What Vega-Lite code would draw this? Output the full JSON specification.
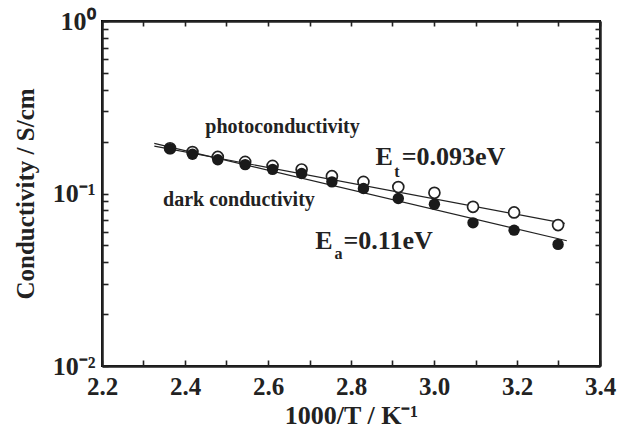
{
  "$schema": "https://vega.github.io/schema/vega-lite/v6.json",
  "autosize": {"type": "none"},
  "width": 498,
  "height": 345,
  "padding": {"left": 102, "top": 21, "right": 29, "bottom": 73},
  "background": "white",
  "config": {
    "view": {"stroke": "black", "strokeWidth": 2},
    "axis": {
      "domainColor": "#222", "domainWidth": 2.5, "tickColor": "#222", "tickWidth": 1.6,
      "grid": false, "labelFont": "Liberation Serif", "labelFontWeight": "bold", "labelColor": "#222",
      "titleFont": "Liberation Serif", "titleFontWeight": "bold", "titleColor": "#222"
    },
    "text": {"font": "Liberation Serif", "fontWeight": "bold", "color": "#222"}
  },
  "datasets": {
    "points": [
      {"x": 2.364, "sigma": 0.182, "type": "dark"},
      {"x": 2.418, "sigma": 0.169, "type": "dark"},
      {"x": 2.479, "sigma": 0.157, "type": "dark"},
      {"x": 2.545, "sigma": 0.147, "type": "dark"},
      {"x": 2.611, "sigma": 0.138, "type": "dark"},
      {"x": 2.681, "sigma": 0.1306, "type": "dark"},
      {"x": 2.754, "sigma": 0.1168, "type": "dark"},
      {"x": 2.830, "sigma": 0.107, "type": "dark"},
      {"x": 2.914, "sigma": 0.0936, "type": "dark"},
      {"x": 3.001, "sigma": 0.0867, "type": "dark"},
      {"x": 3.094, "sigma": 0.0676, "type": "dark"},
      {"x": 3.193, "sigma": 0.0613, "type": "dark"},
      {"x": 3.299, "sigma": 0.0507, "type": "dark"},
      {"x": 2.364, "sigma": 0.183, "type": "photo"},
      {"x": 2.418, "sigma": 0.174, "type": "photo"},
      {"x": 2.479, "sigma": 0.163, "type": "photo"},
      {"x": 2.545, "sigma": 0.1525, "type": "photo"},
      {"x": 2.611, "sigma": 0.1446, "type": "photo"},
      {"x": 2.681, "sigma": 0.1378, "type": "photo"},
      {"x": 2.754, "sigma": 0.126, "type": "photo"},
      {"x": 2.830, "sigma": 0.1168, "type": "photo"},
      {"x": 2.914, "sigma": 0.109, "type": "photo"},
      {"x": 3.001, "sigma": 0.1009, "type": "photo"},
      {"x": 3.094, "sigma": 0.0837, "type": "photo"},
      {"x": 3.193, "sigma": 0.0777, "type": "photo"},
      {"x": 3.299, "sigma": 0.0656, "type": "photo"}
    ],
    "fits": [
      {"x": 2.326, "sigma": 0.1883, "series": "photo"},
      {"x": 3.315, "sigma": 0.0671, "series": "photo"},
      {"x": 2.326, "sigma": 0.1954, "series": "dark"},
      {"x": 3.320, "sigma": 0.0532, "series": "dark"}
    ],
    "labels": [
      {"x": 2.635, "sigma": 0.2237, "text": "photoconductivity", "role": "name"},
      {"x": 2.530, "sigma": 0.0843, "text": "dark conductivity", "role": "name"},
      {"x": 2.859, "sigma": 0.1459, "text": "E", "role": "E"},
      {"x": 2.904, "sigma": 0.1244, "text": "t", "role": "sub"},
      {"x": 2.922, "sigma": 0.1459, "text": "=0.093eV", "role": "val"},
      {"x": 2.714, "sigma": 0.0474, "text": "E", "role": "E"},
      {"x": 2.760, "sigma": 0.0415, "text": "a", "role": "sub"},
      {"x": 2.782, "sigma": 0.0474, "text": "=0.11eV", "role": "val"}
    ]
  },
  "resolve": {"axis": {"x": "independent", "y": "independent"}},
  "layer": [
    {
      "data": {"name": "fits"},
      "mark": {"type": "line", "color": "#222", "strokeWidth": 1.2},
      "encoding": {
        "x": {"field": "x", "type": "quantitative",
          "scale": {"domain": [2.2, 3.4], "nice": false, "zero": false},
          "axis": {"orient": "bottom", "values": [2.2, 2.3, 2.4, 2.5, 2.6, 2.7, 2.8, 2.9, 3.0, 3.1, 3.2, 3.3, 3.4],
            "labelExpr": "round(datum.value*10) % 2 == 0 ? format(datum.value, '.1f') : ''",
            "tickSize": -6, "labelPadding": 14, "labelFontSize": 25, "labelFlush": false,
            "title": "1000/T / K⁻¹", "titleFontSize": 26, "titlePadding": 3}},
        "y": {"field": "sigma", "type": "quantitative",
          "scale": {"type": "log", "domain": [0.01, 1], "nice": false},
          "axis": {"orient": "left", "values": [0.01, 0.02, 0.03, 0.04, 0.05, 0.06, 0.07, 0.08, 0.09, 0.1, 0.2, 0.3, 0.4, 0.5, 0.6, 0.7, 0.8, 0.9, 1],
            "labelExpr": "datum.value == 1 ? '10⁰' : datum.value == 0.1 ? '10⁻¹' : datum.value == 0.01 ? '10⁻²' : ''",
            "tickSize": -6, "labelPadding": 13, "labelFontSize": 26, "labelFlush": false,
            "title": "Conductivity / S/cm", "titleFontSize": 25, "titlePadding": 14}},
        "detail": {"field": "series"}
      }
    },
    {
      "data": {"name": "points"},
      "transform": [{"filter": "datum.type == 'photo'"}],
      "mark": {"type": "point", "shape": "circle", "filled": false, "fill": "white", "fillOpacity": 1, "stroke": "#222", "strokeWidth": 1.7, "size": 120, "opacity": 1},
      "encoding": {
        "x": {"field": "x", "type": "quantitative",
          "axis": {"orient": "top", "values": [2.2, 2.3, 2.4, 2.5, 2.6, 2.7, 2.8, 2.9, 3.0, 3.1, 3.2, 3.3, 3.4], "labels": false, "tickSize": -5, "title": null}},
        "y": {"field": "sigma", "type": "quantitative",
          "axis": {"orient": "right", "values": [0.01, 0.02, 0.03, 0.04, 0.05, 0.06, 0.07, 0.08, 0.09, 0.1, 0.2, 0.3, 0.4, 0.5, 0.6, 0.7, 0.8, 0.9, 1], "labels": false, "tickSize": -5, "title": null}}
      }
    },
    {
      "data": {"name": "points"},
      "transform": [{"filter": "datum.type == 'dark'"}],
      "mark": {"type": "point", "shape": "circle", "filled": true, "color": "#1a1a1a", "size": 130, "opacity": 1},
      "encoding": {
        "x": {"field": "x", "type": "quantitative", "axis": null},
        "y": {"field": "sigma", "type": "quantitative", "axis": null}
      }
    },
    {
      "data": {"name": "labels"},
      "transform": [{"filter": "datum.role == 'name'"}],
      "mark": {"type": "text", "fontSize": 20, "align": "center", "baseline": "alphabetic"},
      "encoding": {
        "x": {"field": "x", "type": "quantitative", "axis": null},
        "y": {"field": "sigma", "type": "quantitative", "axis": null},
        "text": {"field": "text"}
      }
    },
    {
      "data": {"name": "labels"},
      "transform": [{"filter": "datum.role == 'E' || datum.role == 'val'"}],
      "mark": {"type": "text", "fontSize": 26, "align": "left", "baseline": "alphabetic"},
      "encoding": {
        "x": {"field": "x", "type": "quantitative", "axis": null},
        "y": {"field": "sigma", "type": "quantitative", "axis": null},
        "text": {"field": "text"}
      }
    },
    {
      "data": {"name": "labels"},
      "transform": [{"filter": "datum.role == 'sub'"}],
      "mark": {"type": "text", "fontSize": 16, "align": "left", "baseline": "alphabetic"},
      "encoding": {
        "x": {"field": "x", "type": "quantitative", "axis": null},
        "y": {"field": "sigma", "type": "quantitative", "axis": null},
        "text": {"field": "text"}
      }
    }
  ]
}
